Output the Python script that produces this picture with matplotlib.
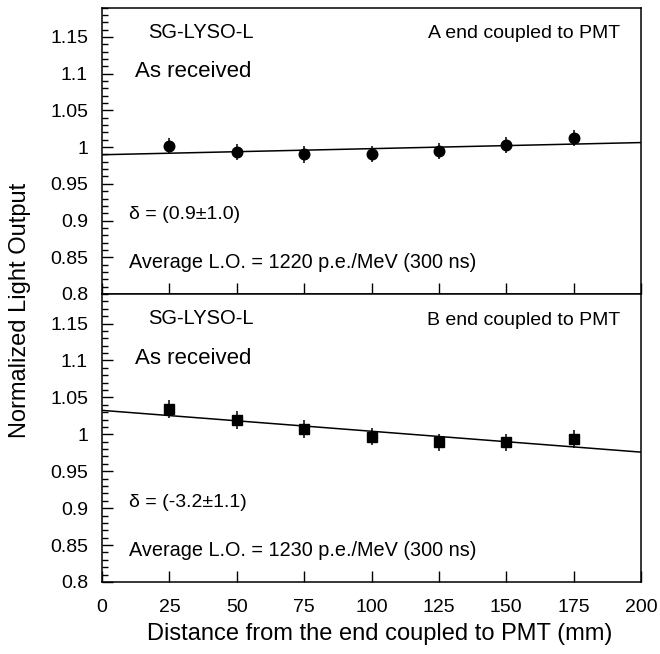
import numpy as np
import matplotlib
matplotlib.use("Agg")
import matplotlib.pyplot as plt
from matplotlib.ticker import MultipleLocator, FixedLocator

plt.rcParams['font.family'] = ['Liberation Sans', 'DejaVu Sans']

# Measurement positions along the crystal (mm)
distance = [25, 50, 75, 100, 125, 150, 175]

# A end coupled to PMT
lo_a = [1.001, 0.993, 0.990, 0.991, 0.995, 1.003, 1.012]
err_a = [0.011, 0.011, 0.011, 0.011, 0.011, 0.011, 0.011]

# B end coupled to PMT
lo_b = [1.034, 1.019, 1.007, 0.997, 0.989, 0.989, 0.994]
err_b = [0.012, 0.012, 0.012, 0.012, 0.012, 0.012, 0.012]

x_ticks = [0, 25, 50, 75, 100, 125, 150, 175, 200]
y_ticks = [0.8, 0.85, 0.9, 0.95, 1.0, 1.05, 1.1, 1.15]
y_tick_labels = ["0.8", "0.85", "0.9", "0.95", "1", "1.05", "1.1", "1.15"]

panels = [
    dict(y=lo_a, err=err_a, marker='o', end="A end coupled to PMT",
         delta="δ = (0.9±1.0)",
         avg="Average L.O. = 1220 p.e./MeV (300 ns)"),
    dict(y=lo_b, err=err_b, marker='s', end="B end coupled to PMT",
         delta="δ = (-3.2±1.1)",
         avg="Average L.O. = 1230 p.e./MeV (300 ns)"),
]

W, H = 660, 654
fig = plt.figure(figsize=(W / 100, H / 100), dpi=100)

left, right = 102 / W, 641 / W
top_px, mid_px, bot_px = 7.5, 294, 582
ax_top = fig.add_axes([left, 1 - mid_px / H, right - left, (mid_px - top_px) / H])
ax_bot = fig.add_axes([left, 1 - bot_px / H, right - left, (bot_px - mid_px) / H])

for ax, p in zip([ax_top, ax_bot], panels):
    x = np.array(distance, dtype=float)
    y = np.array(p['y'])
    ax.errorbar(x, y, yerr=p['err'], fmt=p['marker'], color='black',
                markersize=7.6, elinewidth=1.1, capsize=0)
    # straight-line fit across the full length
    slope, intercept = np.polyfit(x, y, 1)
    xf = np.array([0.0, 200.0])
    ax.plot(xf, intercept + slope * xf, color='black', lw=1.1)

    ax.set_xlim(0, 200)
    ax.set_ylim(0.8, 1.19)
    ax.xaxis.set_major_locator(FixedLocator(x_ticks))
    ax.yaxis.set_major_locator(FixedLocator(y_ticks))
    ax.set_yticklabels(y_tick_labels)
    ax.yaxis.set_minor_locator(MultipleLocator(0.01))
    ax.tick_params(axis='both', which='major', direction='in', length=8,
                   width=1.0, labelsize=14, top=False, right=False)
    ax.tick_params(axis='y', which='major', pad=10)
    ax.tick_params(axis='y', which='minor', direction='in', length=4.3,
                   width=1.0, right=False)
    for s in ax.spines.values():
        s.set_linewidth(1.1)

    ax.text(0.085, 0.914, "SG-LYSO-L", transform=ax.transAxes, fontsize=14.5,
            ha='left', va='center')
    ax.text(0.961, 0.908, p['end'], transform=ax.transAxes, fontsize=14,
            ha='right', va='center')
    ax.text(0.061, 0.775, "As received", transform=ax.transAxes, fontsize=16,
            ha='left', va='center')
    ax.text(0.05, 0.277, p['delta'], transform=ax.transAxes, fontsize=14,
            ha='left', va='center')
    ax.text(0.05, 0.11, p['avg'], transform=ax.transAxes, fontsize=14.3,
            ha='left', va='center')

ax_top.tick_params(axis='x', labelbottom=False)
ax_bot.tick_params(axis='x', pad=12)

fig.text(20 / W, 1 - 310 / H, "Normalized Light Output", rotation=90,
         fontsize=17, ha='center', va='center')
fig.text(380 / W, 1 - 634 / H, "Distance from the end coupled to PMT (mm)",
         fontsize=17, ha='center', va='center')

fig.savefig("out.png", dpi=100)
